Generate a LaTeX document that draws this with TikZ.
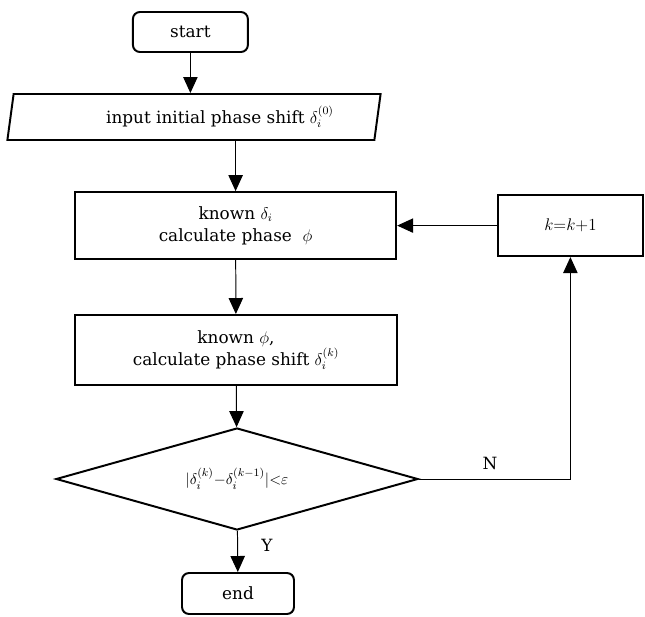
\documentclass[tikz,border=0pt]{standalone}
\usepackage{amsmath}
\usepackage{fontspec}
\setmainfont{DejaVu Serif}
\usetikzlibrary{arrows.meta,shapes.geometric}

\begin{document}
\begin{tikzpicture}[
  box/.style={draw, line width=1.4pt, align=center, inner sep=2pt, font=\fontsize{12}{15.5}\selectfont},
  term/.style={box, rounded corners=5pt},
  flow/.style={-{Triangle[length=0.4cm,width=0.36cm]}, line width=0.7pt},
  lbl/.style={font=\fontsize{12}{14}\selectfont}
]
\useasboundingbox (0,0) rectangle (16.125,15.4);
% Start and input
\node[term, minimum width=2.875cm, minimum height=1cm] (start) at (4.76,14.6) {start};
\node[box, trapezium, trapezium left angle=77, trapezium right angle=103,
      trapezium stretches body, minimum width=9.33cm, minimum height=1.15cm]
  (input) at (4.85,12.475) {\hspace*{1.3cm}input initial phase shift $\delta_i^{(0)}$};
% Iteration boxes
\node[box, minimum width=8.03cm, minimum height=1.675cm] (phase) at (5.89,9.76)
  {known $\delta_i$\\ calculate phase~ $\phi$};
\node[box, minimum width=8.05cm, minimum height=1.75cm] (shift) at (5.9,6.65)
  {known $\phi$,\\ calculate phase shift $\delta_i^{(k)}$};
\node[box, minimum width=3.625cm, minimum height=1.525cm] (incr) at (14.26,9.76)
  {$k{=}k{+}1$};
% Test and end
\node[box, diamond, aspect=3.55, inner sep=0pt, minimum width=9.05cm, minimum height=2.55cm,
      font=\fontsize{11}{12}\selectfont] (test) at (5.925,3.425)
  {$|\delta_i^{(k)}{-}\delta_i^{(k-1)}|{<}\varepsilon$};
\node[term, minimum width=2.8cm, minimum height=1.025cm] (stop) at (5.95,0.5625) {end};
% Labels
\node[lbl] (yes) at (6.675,1.775) {Y};
\node[lbl] (no) at (12.25,3.825) {N};
% Connectors
\draw[flow] (start.south) -- (start.south |- input.north);
\draw[flow] (input.south -| phase.north) -- (phase.north);
\draw[flow] (phase) -- (shift);
\draw[flow] (shift) -- (test);
\draw[flow] (test) -- (stop);
\draw[flow] (test.east) -| (incr.south);
\draw[flow] (incr) -- (phase);
\end{tikzpicture}
\end{document}
